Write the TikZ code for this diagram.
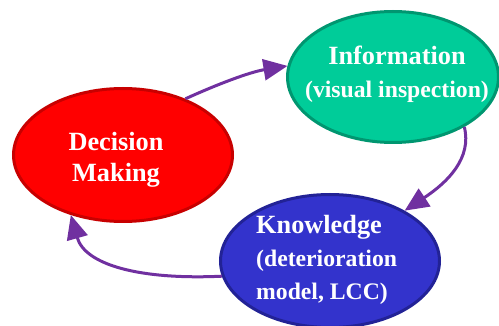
\documentclass[tikz,border=0pt]{standalone}
\usepackage{fontspec}
\setmainfont{Liberation Serif}
\usetikzlibrary{arrows.meta,shapes.geometric}
\definecolor{dmfill}{RGB}{255,0,0}
\definecolor{dmline}{RGB}{200,0,0}
\definecolor{infofill}{RGB}{0,204,153}
\definecolor{infoline}{RGB}{0,150,112}
\definecolor{knowfill}{RGB}{51,51,204}
\definecolor{knowline}{RGB}{34,34,150}
\definecolor{arrcol}{RGB}{112,48,160}
\tikzset{
  blob/.style={ellipse, line width=3pt, inner sep=0pt, minimum width=219pt, minimum height=133pt},
  lbl/.style={text=white, inner sep=0pt, font=\bfseries\fontsize{23.7}{33}\selectfont},
  arr/.style={draw=arrcol, line width=3pt, -{Triangle[length=24pt,width=21pt]}},
  big/.style={}
}
\newcommand{\bigline}[1]{{\fontsize{26.3}{33}\selectfont #1}}
\begin{document}
\begin{tikzpicture}[x=1pt,y=-1pt]
\useasboundingbox (0,0) rectangle (499,326);
\node[blob, fill=dmfill, draw=dmline] (dm) at (123,155) {};
\node[blob, fill=infofill, draw=infoline, minimum width=211pt, minimum height=131pt] (info) at (393,77) {};
\node[blob, fill=knowfill, draw=knowline] (know) at (330,261) {};
\node[lbl, align=center, font=\bfseries\fontsize{26.3}{31}\selectfont] (dmt) at (116,159.5) {Decision\\Making};
\node[lbl, align=center] (infot) at (397,74) {\bigline{Information}\\(visual inspection)};
\node[lbl, align=left, anchor=west] (knowt) at (256,260) {\bigline{Knowledge}\\(deterioration\\model, LCC)};
\draw[arr] (dm.42) .. controls (218,84) and (250,72) .. (info.174);
\draw[arr] (info.-35) .. controls (472,158) and (448,182) .. (know.34);
\draw[arr] (know.188) .. controls (140,280) and (85,265) .. (dm.229);
\end{tikzpicture}
\end{document}
